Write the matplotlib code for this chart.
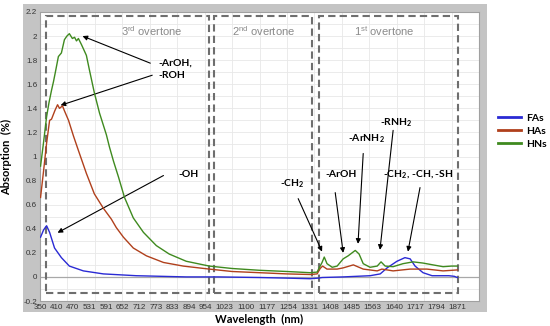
import matplotlib
matplotlib.use("Agg")
import matplotlib.pyplot as plt
from matplotlib.patches import Rectangle

# wavelength ticks shown on the axis
tick_labels = [350, 410, 470, 531, 591, 652, 712, 773, 833, 894, 954,
               1023, 1100, 1177, 1254, 1331, 1408, 1485, 1563, 1640, 1717, 1794, 1871]

# HNs (green)
hns_wl = [352, 362, 374, 383, 392, 399, 406, 417, 428, 439, 448, 457, 468, 476, 483,
          490, 501, 519, 530, 548, 567, 592, 603, 618, 636, 658, 690, 727, 774, 821,
          883, 967, 1050, 1150, 1250, 1335, 1360, 1371, 1378, 1386, 1396, 1415, 1433,
          1455, 1473, 1499, 1513, 1528, 1553, 1579, 1593, 1608, 1637, 1673, 1710, 1746,
          1782, 1819, 1850, 1871]
hns_abs = [0.92, 1.10, 1.33, 1.45, 1.55, 1.62, 1.70, 1.83, 1.86, 1.97, 2.00, 2.02, 1.98,
           1.99, 1.96, 1.98, 1.93, 1.84, 1.72, 1.53, 1.36, 1.18, 1.08, 0.96, 0.83, 0.66,
           0.49, 0.37, 0.26, 0.19, 0.13, 0.09, 0.07, 0.055, 0.045, 0.035, 0.04, 0.09,
           0.12, 0.165, 0.11, 0.08, 0.09, 0.15, 0.175, 0.22, 0.19, 0.11, 0.08, 0.09,
           0.125, 0.09, 0.085, 0.11, 0.125, 0.115, 0.10, 0.085, 0.09, 0.09]

# HAs (red)
has_wl = [352, 363, 374, 385, 392, 404, 414, 421, 432, 439, 454, 472, 490, 519, 548,
          581, 610, 628, 654, 690, 738, 800, 872, 967, 1050, 1150, 1250, 1335, 1360,
          1371, 1380, 1396, 1433, 1455, 1492, 1528, 1579, 1596, 1637, 1699, 1760, 1819,
          1871]
has_abs = [0.66, 0.88, 1.11, 1.30, 1.31, 1.38, 1.43, 1.40, 1.42, 1.38, 1.30, 1.17, 1.05,
           0.86, 0.69, 0.57, 0.48, 0.41, 0.33, 0.24, 0.175, 0.12, 0.09, 0.065, 0.045,
           0.035, 0.025, 0.02, 0.025, 0.07, 0.09, 0.065, 0.065, 0.075, 0.10, 0.065,
           0.05, 0.065, 0.05, 0.065, 0.065, 0.05, 0.058]

# FAs (blue)
fas_wl = [352, 363, 374, 385, 403, 428, 457, 508, 581, 701, 883, 1000, 1150, 1250,
          1335, 1365, 1378, 1455, 1553, 1590, 1615, 1651, 1680, 1699, 1717, 1746, 1779,
          1840, 1860, 1871]
fas_abs = [0.33, 0.39, 0.425, 0.37, 0.24, 0.16, 0.09, 0.05, 0.025, 0.01, 0.0, 0.0,
           -0.005, -0.01, -0.015, -0.01, -0.005, 0.0, 0.01, 0.025, 0.075, 0.13, 0.16,
           0.15, 0.09, 0.035, 0.01, 0.01, 0.005, -0.005]

# overtone regions (wavelength span, title position, title)
regions = [(372, 967, 756, r"3$^{\mathregular{rd}}$ overtone"),
           (985, 1342, 1164, r"2$^{\mathregular{nd}}$ overtone"),
           (1367, 1873, 1605, r"1$^{\mathregular{st}}$ overtone")]


def main() -> None:
    fig = plt.figure(figsize=(5.5, 3.26), dpi=100)
    fig.patches.append(Rectangle((23 / 550, 1 - 312 / 326), 464 / 550, 308 / 326,
                                 transform=fig.transFigure, facecolor="#c4c4c4",
                                 edgecolor="none", zorder=-5))
    ax = fig.add_axes([40 / 550, 1 - 301 / 326, 439 / 550, 289 / 326])
    ax.set_facecolor("white")

    ax.set_xlim(350, 1950)
    ax.set_ylim(-0.2, 2.2)
    ax.set_xticks(tick_labels)
    ax.set_xticklabels([str(t) for t in tick_labels])
    ax.set_yticks([i / 10 for i in range(-2, 23, 2)])
    ax.set_yticklabels(["-0.2", "0", "0.2", "0.4", "0.6", "0.8", "1", "1.2",
                        "1.4", "1.6", "1.8", "2", "2.2"])
    ax.tick_params(length=0, pad=2, labelsize=5.8, labelcolor="#333333")
    for lab in ax.get_xticklabels() + ax.get_yticklabels():
        lab.set_fontfamily("Liberation Sans")

    # grid
    for gx in range(450, 1951, 100):
        ax.axvline(gx, color="#e8e8e8", lw=0.6, zorder=0)
    for i in range(-2, 23):
        ax.axhline(i / 10, color="#e8e8e8", lw=0.6, zorder=0)
    ax.axhline(0, color="#a8a8a8", lw=0.9, zorder=1)
    for s in ax.spines.values():
        s.set_color("#a0a0a0")
        s.set_linewidth(0.8)

    # overtone boxes
    for x0, x1, tx, title in regions:
        ax.add_patch(Rectangle((x0, -0.133), x1 - x0, 2.3, fill=False,
                               edgecolor="#6e6e6e", lw=1.5,
                               linestyle=(0, (3.5, 2)), zorder=2))
        ax.text(tx, 2.04, title, ha="center", va="center",
                fontsize=8, color="#8a8a8a", family="Liberation Sans")

    ax.plot(fas_wl, fas_abs, color="#2a2ad4", lw=1.0, label="FAs", zorder=4)
    ax.plot(has_wl, has_abs, color="#b0401c", lw=1.0, label="HAs", zorder=4)
    ax.plot(hns_wl, hns_abs, color="#3f8a1f", lw=1.0, label="HNs", zorder=4)

    # annotations
    tkw = dict(fontsize=7.5, fontweight="bold", family="Lato", va="center",
               ha="left", zorder=5)
    akw = dict(arrowstyle="-|>", color="black", lw=0.8, mutation_scale=7,
               shrinkA=0, shrinkB=0)
    ax.text(781, 1.775, "-ArOH,", **tkw)
    ax.text(781, 1.675, "-ROH", **tkw)
    ax.annotate("", xy=(505, 2.0), xytext=(752, 1.775), arrowprops=akw)
    ax.annotate("", xy=(425, 1.425), xytext=(759, 1.675), arrowprops=akw)

    ax.text(854, 0.85, "-OH", **tkw)
    ax.annotate("", xy=(414, 0.367), xytext=(800, 0.842), arrowprops=akw)

    ax.text(1225, 0.775, "-CH$_{\\mathregular{2}}$", **tkw)
    ax.annotate("", xy=(1378, 0.21), xytext=(1291, 0.65), arrowprops=akw)

    ax.text(1389, 0.85, "-ArOH", **tkw)
    ax.annotate("", xy=(1455, 0.20), xytext=(1426, 0.70), arrowprops=akw)

    ax.text(1473, 1.15, "-ArNH$_{\\mathregular{2}}$", **tkw)
    ax.annotate("", xy=(1509, 0.275), xytext=(1528, 1.025), arrowprops=akw)

    ax.text(1589, 1.283, "-RNH$_{\\mathregular{2}}$", **tkw)
    ax.annotate("", xy=(1589, 0.225), xytext=(1637, 1.217), arrowprops=akw)

    ax.text(1858, 0.85, "-CH$_{\\mathregular{2}}$, -CH, -SH",
            **{**tkw, "ha": "right"})
    ax.annotate("", xy=(1691, 0.21), xytext=(1735, 0.742), arrowprops=akw)

    ax.set_xlabel("Wavelength  (nm)", fontsize=8, fontweight="bold",
                  family="Lato", labelpad=2)
    ax.set_ylabel("Absorption  (%)", fontsize=8, fontweight="bold",
                  family="Lato", labelpad=8)

    leg = fig.legend(loc="center left", bbox_to_anchor=(0.888, 0.598),
                     frameon=False, handlelength=2.2, handletextpad=0.5,
                     labelspacing=0.35, prop=dict(family="Lato", weight="bold",
                                                  size=7.5))
    for line in leg.get_lines():
        line.set_linewidth(2)

    fig.savefig("out.png", dpi=100)


if __name__ == "__main__":
    main()
